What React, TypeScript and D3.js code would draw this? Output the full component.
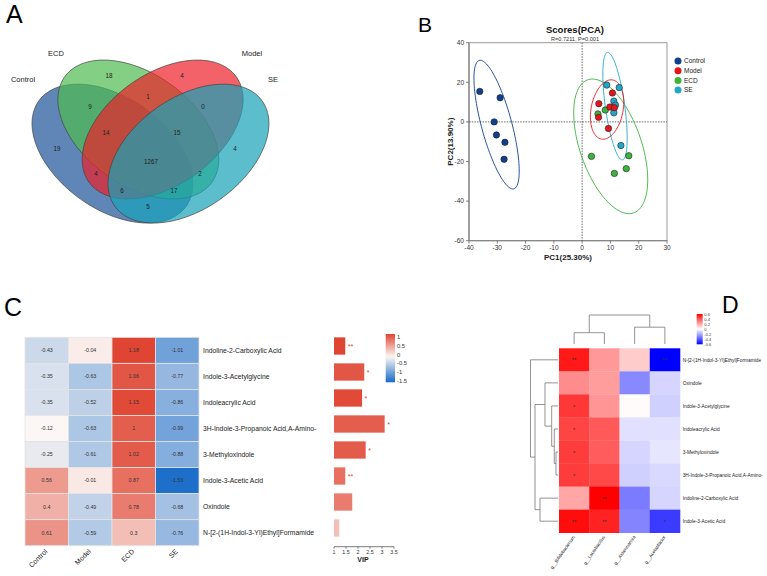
import React from 'react';
import * as d3 from 'd3';

const FONT = "'Liberation Sans', Arial, Helvetica, sans-serif";

// ---------------- Panel A data ----------------
const vennNames = ['Control', 'ECD', 'Model', 'SE'];
const vennColors = ['#1d5399', '#4fbb4f', '#ec2028', '#17a2b8'];
const vennCounts = [19, 18, 4, 4, 9, 1, 0, 14, 15, 1267, 4, 2, 6, 17, 5];

// ---------------- Panel B data ----------------
const pcaGroups = ['Control', 'Model', 'ECD', 'SE'];
const pcaColors = ['#0f3f8f', '#e8141c', '#3cb43c', '#22a7c9'];
const controlPC1 = [-36.2, -29.0, -31.1, -30.3, -27.3, -27.6];
const controlPC2 = [15.4, 12.2, 0.0, -6.6, -10.3, -18.9];
const modelPC1 = [5.9, 5.8, 10.7, 9.8, 11.4, 9.3];
const modelPC2 = [9.2, 2.3, 14.6, 7.5, 7.2, -3.3];
const ecdPC1 = [5.6, 8.2, 3.3, 16.5, 15.6, 11.4];
const ecdPC2 = [4.0, 6.0, -17.4, -17.1, -23.6, -26.0];
const sePC1 = [8.7, 13.1, 11.2, 11.8, 11.2, 13.7];
const sePC2 = [18.6, 17.4, 10.5, 8.5, 4.6, -11.9];
const pcaXTicks = [-40, -30, -20, -10, 0, 10, 20, 30];
const pcaYTicks = [40, 20, 0, -20, -40, -60];

// ---------------- Panel C data ----------------
const cRows = [
  'Indoline-2-Carboxylic Acid',
  'Indole-3-Acetylglycine',
  'Indoleacrylic Acid',
  '3H-Indole-3-Propanoic Acid,A-Amino-',
  '3-Methyloxindole',
  'Indole-3-Acetic Acid',
  'Oxindole',
  'N-[2-(1H-Indol-3-Yl)Ethyl]Formamide',
];
const cCols = ['Control', 'Model', 'ECD', 'SE'];
const cControl = [-0.43, -0.35, -0.35, -0.12, -0.25, 0.56, 0.4, 0.61];
const cModel = [-0.04, -0.63, -0.52, -0.63, -0.61, -0.01, -0.49, -0.59];
const cECD = [1.18, 1.06, 1.15, 1, 1.02, 0.87, 0.78, 0.3];
const cSE = [-1.01, -0.77, -0.86, -0.99, -0.88, -1.53, -0.68, -0.76];
const vipValues = [1.47, 2.26, 2.17, 3.11, 2.32, 1.47, 1.76, 1.22];
const vipStars = ['**', '*', '*', '*', '*', '**', '', ''];
const vipTicks = [1, 1.5, 2, 2.5, 3, 3.5];
const cLegendTicks = [1, 0.5, 0, -0.5, -1, -1.5];

// ---------------- Panel D data ----------------
const dRows = [
  'N-[2-(1H-Indol-3-Yl)Ethyl]Formamide',
  'Oxindole',
  'Indole-3-Acetylglycine',
  'Indoleacrylic Acid',
  '3-Methyloxindole',
  '3H-Indole-3-Propanoic Acid,A-Amino-',
  'Indoline-2-Carboxylic Acid',
  'Indole-3-Acetic Acid',
];
const dCols = ['g__Bifidobacterium', 'g__Lactobacillus', 'g__Akkermansia', 'g__Acetatifactor'];
const dBif = [0.54, 0.27, 0.47, 0.44, 0.46, 0.46, 0.21, 0.57];
const dLac = [0.24, 0.23, 0.25, 0.39, 0.38, 0.43, 0.6, 0.52];
const dAkk = [0.12, -0.28, 0.01, -0.07, -0.1, -0.11, -0.31, -0.29];
const dAce = [-0.6, -0.1, -0.11, -0.07, -0.06, -0.09, -0.1, -0.46];
const dBifStars = ['**', '', '*', '*', '*', '*', '', '**'];
const dLacStars = ['', '', '', '', '', '', '**', '**'];
const dAkkStars = ['', '', '', '', '', '', '', ''];
const dAceStars = ['**', '', '', '', '', '', '', '*'];
const dLegendTicks = [0.6, 0.4, 0.2, 0, -0.2, -0.4, -0.6];
// dendrogram merge heights (relative)
const dColTree = { h: 1, children: [{ h: 0.39, children: [0, 1] }, { h: 0.58, children: [2, 3] }] };
const dRowTree = {
  h: 1,
  children: [
    0,
    {
      h: 0.836,
      children: [
        { h: 0.473, children: [1, { h: 0.229, children: [2, { h: 0.135, children: [3, { h: 0.073, children: [4, 5] }] }] }] },
        { h: 0.655, children: [6, 7] },
      ],
    },
  ],
};

// ---------------- helpers ----------------
function ellipsePoints(xs: number[], ys: number[]) {
  const n = xs.length;
  const mx = d3.mean(xs) as number;
  const my = d3.mean(ys) as number;
  let sxx = 0, syy = 0, sxy = 0;
  for (let i = 0; i < n; i++) {
    sxx += (xs[i] - mx) ** 2;
    syy += (ys[i] - my) ** 2;
    sxy += (xs[i] - mx) * (ys[i] - my);
  }
  sxx /= n - 1; syy /= n - 1; sxy /= n - 1;
  const tr = sxx + syy, det = sxx * syy - sxy * sxy;
  const disc = Math.sqrt(Math.max(0, (tr * tr) / 4 - det));
  const l1 = tr / 2 + disc, l2 = tr / 2 - disc;
  const th = Math.atan2(l1 - sxx, sxy);
  const k = Math.sqrt(5.991);
  return d3.range(0, 361, 3).map((deg) => {
    const t = (deg * Math.PI) / 180;
    const u = k * Math.sqrt(l1) * Math.cos(t);
    const v = k * Math.sqrt(Math.max(l2, 0)) * Math.sin(t);
    return [mx + u * Math.cos(th) - v * Math.sin(th), my + u * Math.sin(th) + v * Math.cos(th)] as [number, number];
  });
}

type Node = number | { h: number; children: Node[] };
function dendroSegments(tree: Node) {
  const segs: { h1: number; p1: number; h2: number; p2: number }[] = [];
  function walk(n: Node): { p: number; h: number } {
    if (typeof n === 'number') return { p: n, h: 0 };
    const kids = n.children.map(walk);
    const p = (kids[0].p + kids[kids.length - 1].p) / 2;
    segs.push({ h1: n.h, p1: kids[0].p, h2: n.h, p2: kids[kids.length - 1].p });
    kids.forEach((k) => segs.push({ h1: n.h, p1: k.p, h2: k.h, p2: k.p }));
    return { p, h: n.h };
  }
  walk(tree);
  return segs;
}

export default function App() {
  // ---------- Panel A ----------
  const vx0 = 22, vY0 = 249.9, vsx = 258.5, vsy = 240.8;
  const vennShapes = [
    { cx: 0.35, cy: 0.4, rot: 140 },
    { cx: 0.45, cy: 0.5, rot: 140 },
    { cx: 0.544, cy: 0.5, rot: 40 },
    { cx: 0.644, cy: 0.4, rot: 40 },
  ];
  const vennLabelPos = [
    [23, 79], [56, 53], [252, 53], [273, 79],
  ];
  const vennCountPos = [
    [57, 149], [109, 76], [182, 76], [235, 149], [90, 107], [148, 97], [203, 107], [106, 133], [177, 133],
    [151, 162], [96, 174], [200, 174], [122, 191], [174, 191], [148, 207],
  ];

  // ---------- Panel B ----------
  const px = d3.scaleLinear().domain([-40, 30]).range([469, 667]);
  const py = d3.scaleLinear().domain([-60, 40]).range([240.7, 42.7]);
  const groupsX = [controlPC1, modelPC1, ecdPC1, sePC1];
  const groupsY = [controlPC2, modelPC2, ecdPC2, sePC2];
  const line = d3.line<[number, number]>().x((d) => px(d[0])).y((d) => py(d[1]));
  const drawOrder = [0, 2, 3, 1];

  // ---------- Panel C ----------
  const cx = d3.scaleBand<string>().domain(cCols).range([25, 199]);
  const cy = d3.scaleBand<string>().domain(cRows).range([337.3, 545.7]);
  const cColor = d3.scaleLinear<string>().domain([-1.55, -0.12, 1.22]).range(['#1b6dc9', '#fcf7f4', '#df402d']).clamp(true);
  const cData = [cControl, cModel, cECD, cSE];
  const vx = d3.scaleLinear().domain([1, 3.5]).range([334, 394]);
  const vy = d3.scaleBand<string>().domain(cRows).range([333, 541]).paddingInner(0.335).paddingOuter(0.1675);
  const legC = d3.scaleLinear().domain([1, -1.5]).range([337.3, 380.7]);

  // ---------- Panel D ----------
  const dx = d3.scaleBand<string>().domain(dCols).range([559, 680]);
  const dy = d3.scaleBand<string>().domain(dRows).range([348.3, 532.7]);
  const dColor = d3.scaleLinear<string>().domain([-0.6, 0, 0.6]).range(['#0000ff', '#ffffff', '#ff0000']).clamp(true);
  const dData = [dBif, dLac, dAkk, dAce];
  const dStars = [dBifStars, dLacStars, dAkkStars, dAceStars];
  const legD = d3.scaleLinear().domain([0.6, -0.6]).range([314.3, 344.3]);
  const colH = d3.scaleLinear().domain([0, 1]).range([344, 315]);
  const rowH = d3.scaleLinear().domain([0, 1]).range([558, 530.5]);
  const colPos = (i: number) => (dx(dCols[i]) as number) + dx.bandwidth() / 2;
  const rowPos = (i: number) => (dy(dRows[i]) as number) + dy.bandwidth() / 2;
  const colSegs = dendroSegments(dColTree as Node);
  const rowSegs = dendroSegments(dRowTree as Node);
  const interp = (pos: number, f: (i: number) => number) => {
    const lo = Math.floor(pos), hi = Math.ceil(pos);
    return lo === hi ? f(lo) : (f(lo) + f(hi)) / 2 + (pos - (lo + hi) / 2) * 0;
  };
  const posMap = (p: number, f: (i: number) => number) => {
    const lo = Math.floor(p);
    const frac = p - lo;
    if (frac === 0) return f(lo);
    return f(lo) + frac * (f(lo + 1) - f(lo));
  };

  return (
    <div style={{ position: 'absolute', left: 0, top: 0 }}>
      <svg width={767} height={576} style={{ display: 'block', background: '#fff', fontFamily: FONT }}>
        <defs>
          <linearGradient id="gradC" x1="0" y1="0" x2="0" y2="1">
            {d3.range(0, 1.0001, 0.05).map((t) => (
              <stop key={t} offset={t} stopColor={cColor(1.19 + t * (-1.59 - 1.19))} />
            ))}
          </linearGradient>
          <linearGradient id="gradD" x1="0" y1="0" x2="0" y2="1">
            {d3.range(0, 1.0001, 0.05).map((t) => (
              <stop key={t} offset={t} stopColor={dColor(0.6 - t * 1.2)} />
            ))}
          </linearGradient>
        </defs>

        {/* Panel labels */}
        <text x={6} y={23} fontSize={25}>A</text>
        <text x={418} y={32} fontSize={21}>B</text>
        <text x={4} y={316} fontSize={25}>C</text>
        <text x={722} y={313} fontSize={23}>D</text>

        {/* ---------------- Panel A ---------------- */}
        <g transform={`translate(${vx0},${vY0}) scale(${vsx},${-vsy})`}>
          {vennShapes.map((s, i) => (
            <ellipse
              key={i}
              cx={s.cx}
              cy={s.cy}
              rx={0.36}
              ry={0.225}
              transform={`rotate(${s.rot},${s.cx},${s.cy})`}
              fill={vennColors[i]}
              fillOpacity={0.7}
              stroke="#444"
              strokeWidth={0.7}
              vectorEffect="non-scaling-stroke"
            />
          ))}
        </g>
        {vennNames.map((n, i) => (
          <text key={n} x={vennLabelPos[i][0]} y={vennLabelPos[i][1] + 2.5} fontSize={7.5} textAnchor="middle" fill="#222">
            {n}
          </text>
        ))}
        {vennCounts.map((c, i) => (
          <text key={i} x={vennCountPos[i][0]} y={vennCountPos[i][1] + 2.2} fontSize={6.3} textAnchor="middle" fill="#222">
            {c}
          </text>
        ))}

        {/* ---------------- Panel B ---------------- */}
        <text x={575} y={33} fontSize={9.5} fontWeight="bold" textAnchor="middle" fill="#111">Scores(PCA)</text>
        <text x={575} y={41} fontSize={5.6} textAnchor="middle" fill="#333">R=0.7211, P=0.001</text>
        <rect x={469} y={42.7} width={198} height={198} fill="none" stroke="#999" strokeWidth={1} />
        <line x1={469} x2={469} y1={42.7} y2={240.7} stroke="#888" strokeWidth={1.3} />
        <line x1={469} x2={667} y1={240.7} y2={240.7} stroke="#888" strokeWidth={1.3} />
        <line x1={px(0)} x2={px(0)} y1={42.7} y2={240.7} stroke="#444" strokeWidth={0.8} strokeDasharray="1.5,1.2" />
        <line x1={469} x2={667} y1={py(0)} y2={py(0)} stroke="#444" strokeWidth={0.8} strokeDasharray="1.5,1.2" />
        {pcaXTicks.map((t) => (
          <g key={t}>
            <line x1={px(t)} x2={px(t)} y1={240.7} y2={243.5} stroke="#666" strokeWidth={0.8} />
            <text x={px(t)} y={250} fontSize={6.5} textAnchor="middle" fill="#333">{t}</text>
          </g>
        ))}
        {pcaYTicks.map((t) => (
          <g key={t}>
            <line x1={466} x2={469} y1={py(t)} y2={py(t)} stroke="#666" strokeWidth={0.8} />
            <text x={464} y={py(t) + 2.3} fontSize={6.5} textAnchor="end" fill="#333">{t}</text>
          </g>
        ))}
        <text x={568} y={260} fontSize={8} fontWeight="bold" textAnchor="middle" fill="#222">PC1(25.30%)</text>
        <text transform="translate(453,141.7) rotate(-90)" fontSize={8} fontWeight="bold" textAnchor="middle" fill="#222">PC2(13.90%)</text>
        {drawOrder.map((g) => (
          <path key={'e' + g} d={line(ellipsePoints(groupsX[g], groupsY[g])) as string} fill="none" stroke={pcaColors[g]} strokeWidth={0.9} />
        ))}
        {drawOrder.map((g) =>
          groupsX[g].map((xv, i) => (
            <circle key={g + '-' + i} cx={px(xv)} cy={py(groupsY[g][i])} r={3.2} fill={pcaColors[g]} stroke="#222" strokeWidth={0.6} />
          ))
        )}
        {pcaGroups.map((g, i) => (
          <g key={g}>
            <circle cx={678} cy={61 + i * 9.7} r={3.5} fill={pcaColors[i]} />
            <text x={684} y={61 + i * 9.7 + 2.3} fontSize={6.5} fill="#222">{g}</text>
          </g>
        ))}

        {/* ---------------- Panel C ---------------- */}
        {cData.map((col, j) =>
          col.map((v, i) => (
            <g key={j + '-' + i}>
              <rect
                x={cx(cCols[j])}
                y={cy(cRows[i])}
                width={cx.bandwidth()}
                height={cy.bandwidth()}
                fill={cColor(v)}
                stroke="#e4e4e4"
                strokeWidth={0.8}
              />
              <text
                x={(cx(cCols[j]) as number) + cx.bandwidth() / 2}
                y={(cy(cRows[i]) as number) + cy.bandwidth() / 2 + 1.9}
                fontSize={5.3}
                textAnchor="middle"
                fill="#333"
              >
                {String(v)}
              </text>
            </g>
          ))
        )}
        {cRows.map((r) => (
          <text key={r} x={203} y={(cy(r) as number) + cy.bandwidth() / 2 + 2.4} fontSize={6.8} fill="#222">{r}</text>
        ))}
        {cCols.map((c) => (
          <text
            key={c}
            transform={`translate(${(cx(c) as number) + cx.bandwidth() / 2 + 1},${552}) rotate(-45)`}
            fontSize={7}
            textAnchor="end"
            fill="#222"
          >
            {c}
          </text>
        ))}
        {/* VIP bars */}
        {vipValues.map((v, i) => (
          <g key={'vip' + i}>
            <rect x={vx(1)} y={vy(cRows[i])} width={vx(v) - vx(1)} height={vy.bandwidth()} fill={cColor(cECD[i])} />
            {vipStars[i] && (
              <text x={vx(v) + 2.5} y={(vy(cRows[i]) as number) + vy.bandwidth() / 2 + 3.2} fontSize={7} fill="#e0453a">
                {vipStars[i]}
              </text>
            )}
          </g>
        ))}
        <line x1={vx(1)} x2={vx(3.5)} y1={546.7} y2={546.7} stroke="#444" strokeWidth={0.7} />
        {vipTicks.map((t) => (
          <g key={'vt' + t}>
            <line x1={vx(t)} x2={vx(t)} y1={546.7} y2={548.7} stroke="#444" strokeWidth={0.7} />
            <text x={vx(t)} y={554} fontSize={5.3} textAnchor="middle" fill="#333">{t}</text>
          </g>
        ))}
        <text x={363} y={562} fontSize={7} fontWeight="bold" textAnchor="middle" fill="#222">VIP</text>
        <rect x={385.7} y={334} width={9.3} height={48.3} fill="url(#gradC)" />
        {cLegendTicks.map((t) => (
          <text key={'lc' + t} x={397} y={legC(t) + 2} fontSize={5.8} fill="#333">{t}</text>
        ))}

        {/* ---------------- Panel D ---------------- */}
        {dData.map((col, j) =>
          col.map((v, i) => (
            <g key={'d' + j + '-' + i}>
              <rect x={dx(dCols[j])} y={dy(dRows[i])} width={dx.bandwidth() + 0.3} height={dy.bandwidth() + 0.3} fill={dColor(v)} />
              {dStars[j][i] && (
                <text x={colPos(j)} y={rowPos(i) + 2.6} fontSize={6} textAnchor="middle" fill="#333">{dStars[j][i]}</text>
              )}
            </g>
          ))
        )}
        {dRows.map((r, i) => (
          <text key={'dr' + r} x={682.7} y={rowPos(i) + 1.7} fontSize={4.8} fill="#222">{r}</text>
        ))}
        {dCols.map((c, j) => (
          <text key={'dc' + c} transform={`translate(${colPos(j) + 1},${537}) rotate(-55)`} fontSize={4.6} textAnchor="end" fill="#222">
            {c}
          </text>
        ))}
        {colSegs.map((s, i) => (
          <line
            key={'cs' + i}
            x1={posMap(s.p1, colPos)}
            x2={posMap(s.p2, colPos)}
            y1={colH(s.h1)}
            y2={colH(s.h2)}
            stroke="#777"
            strokeWidth={0.8}
          />
        ))}
        {rowSegs.map((s, i) => (
          <line
            key={'rs' + i}
            x1={rowH(s.h1)}
            x2={rowH(s.h2)}
            y1={posMap(s.p1, rowPos)}
            y2={posMap(s.p2, rowPos)}
            stroke="#777"
            strokeWidth={0.8}
          />
        ))}
        <rect x={696.7} y={314} width={6} height={30.3} fill="url(#gradD)" />
        {dLegendTicks.map((t) => (
          <text key={'ld' + t} x={704.3} y={legD(t) + 1.4} fontSize={4} fill="#333">{t}</text>
        ))}
      </svg>
    </div>
  );
}
